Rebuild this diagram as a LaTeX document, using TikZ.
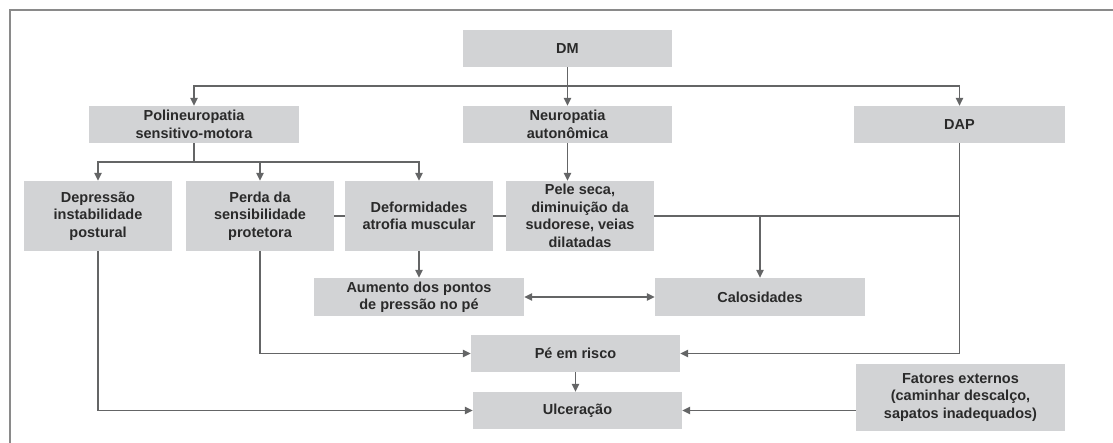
\documentclass[tikz,border=0pt]{standalone}
\usepackage{fontspec}
\setmainfont{Liberation Sans}
\usetikzlibrary{arrows.meta,backgrounds}
\definecolor{boxgray}{HTML}{D2D3D5}
\definecolor{linec}{HTML}{646566}
\definecolor{framec}{HTML}{8A8A8A}
\definecolor{textc}{HTML}{2A2A2A}
\begin{document}
\begin{tikzpicture}[x=1pt,y=-1pt,
  box/.style={fill=boxgray, inner sep=0pt, align=center, text=textc,
    font=\bfseries\fontsize{14.5}{17.5}\selectfont},
  conn/.style={draw=linec, line width=1.3pt},
  arr/.style={conn, -{Triangle[length=8pt,width=7.5pt]}},
  darr/.style={conn, {Triangle[length=8pt,width=7.5pt]}-{Triangle[length=8pt,width=7.5pt]}}]
\useasboundingbox (0,0) rectangle (1113,442);
\clip (0,0) rectangle (1113,442);
\draw[framec, line width=1.2pt] (10,460) -- (10,10) -- (1130,10);

\node[box, minimum width=209pt, minimum height=37pt] (dm) at (567.5,48.5) {DM};
\node[box, minimum width=210pt, minimum height=37pt] (poli) at (194,124.5) {Polineuropatia\\sensitivo-motora};
\node[box, minimum width=209pt, minimum height=37pt] (neuro) at (567.5,124.5) {Neuropatia\\autonômica};
\node[box, minimum width=211pt, minimum height=37pt] (dap) at (959.5,124.5) {DAP};
\node[box, minimum width=148pt, minimum height=70pt] (dep) at (98,216) {Depressão\\instabilidade\\postural};
\node[box, minimum width=148pt, minimum height=70pt] (perda) at (260,216) {Perda da\\sensibilidade\\protetora};
\node[box, minimum width=148pt, minimum height=70pt] (deform) at (419,216) {Deformidades\\atrofia muscular};
\node[box, minimum width=148pt, minimum height=70pt] (pele) at (580,216) {Pele seca,\\diminuição da\\sudorese, veias\\dilatadas};
\node[box, minimum width=210pt, minimum height=38pt] (aumento) at (419,297) {Aumento dos pontos\\de pressão no pé};
\node[box, minimum width=210pt, minimum height=38pt] (calos) at (760,297) {Calosidades};
\node[box, minimum width=209pt, minimum height=37pt] (pe) at (575.5,353.5) {Pé em risco};
\node[box, minimum width=209pt, minimum height=37pt] (ulc) at (577.5,410.5) {Ulceração};
\node[box, minimum width=209pt, minimum height=67pt] (fat) at (960.5,397.5) {Fatores externos\\(caminhar descalço,\\sapatos inadequados)};

\coordinate (j1) at (567.5,86);
\coordinate (j2) at (194,162);

\begin{scope}[on background layer]
\draw[arr] (dm.south) -- (neuro.north);
\draw[arr] (j1) -| (poli.north);
\draw[arr] (j1) -| (dap.north);
\draw[conn] (poli.south) -- (j2);
\draw[arr] (j2) -| (dep.north);
\draw[arr] (j2) -| (perda.north);
\draw[arr] (j2) -| (deform.north);
\draw[arr] (neuro.south) -- (neuro.south |- pele.north);
\draw[conn] (perda.east) -- (perda.east -| dap.south);
\draw[arr] (perda.east -| calos.north) -- (calos.north);
\draw[arr] (dap.south) |- (pe.east);
\draw[arr] (deform.south) -- (aumento.north);
\draw[darr] (aumento.east) -- (calos.west);
\draw[arr] (perda.south) |- (pe.west);
\draw[arr] (dep.south) |- (ulc.west);
\draw[arr] (pe.south) -- (pe.south |- ulc.north);
\draw[arr] (fat.west |- ulc.east) -- (ulc.east);
\end{scope}
\end{tikzpicture}
\end{document}
